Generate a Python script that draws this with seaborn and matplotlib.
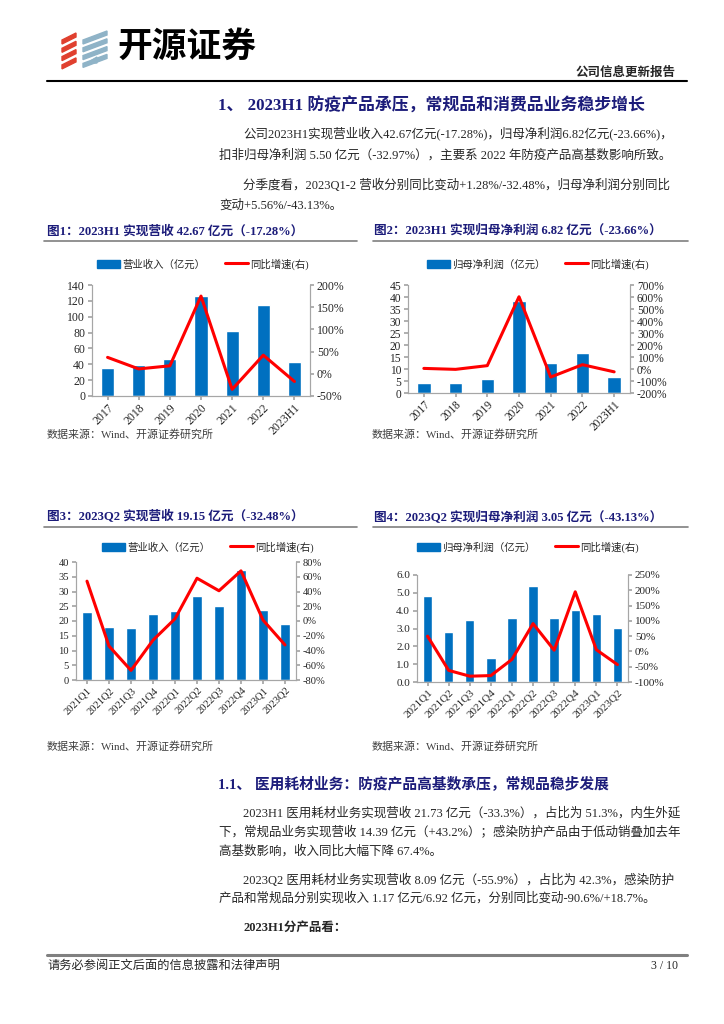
import numpy as np
import pandas as pd
import matplotlib
matplotlib.use("Agg")
import matplotlib.pyplot as plt
import seaborn as sns
from matplotlib.patches import Patch, Polygon
from matplotlib.lines import Line2D

# -----------------------------
# Data
# -----------------------------
years = ["2017", "2018", "2019", "2020", "2021", "2022", "2023H1"]
rev_year = [35.3, 38.7, 46.2, 126.5, 81.5, 114.7, 42.67]
rev_year_yoy = [37, 11, 18, 175, -35, 42, -17.28]
np_year = [4.3, 4.3, 5.7, 38.3, 12.5, 16.7, 6.82]
np_year_yoy = [5, -3, 28, 602, -67, 36, -23.66]

quarters = ["2021Q1", "2021Q2", "2021Q3", "2021Q4", "2022Q1",
            "2022Q2", "2022Q3", "2022Q4", "2023Q1", "2023Q2"]
rev_q = [22.9, 18.0, 17.75, 22.4, 23.4, 28.5, 25.1, 37.3, 23.7, 19.15]
rev_q_yoy = [54, -34, -67, -26, 3, 58, 41, 68, 1.28, -32.48]
np_q = [4.82, 2.81, 3.47, 1.37, 3.58, 5.38, 3.58, 4.01, 3.79, 3.05]
np_q_yoy = [50, -62, -81, -79, -26, 91, 4, 195, 5.56, -43.13]

BLUE = "#0070C0"
RED = "#FF0000"
NAVY = "#1C1C7A"
GRAY = "#A6A6A6"

sns.set_theme(style="white")
plt.rcParams['font.family'] = ['Liberation Serif', 'Noto Sans CJK SC']
plt.rcParams['axes.unicode_minus'] = False

W, H = 724, 1024
fig = plt.figure(figsize=(7.24, 10.24), dpi=100)


def px(x, y):
    return x / W, 1 - y / H


def rect(x0, y0, x1, y1):
    return [x0 / W, 1 - y1 / H, (x1 - x0) / W, (y1 - y0) / H]


def text(x, y, s, size=9, **kw):
    fig.text(*px(x, y), s, fontsize=size, va="center", **kw)


def hline(x0, x1, y, lw=1.0, color="black"):
    fig.add_artist(Line2D([x0 / W, x1 / W], [1 - y / H, 1 - y / H],
                          lw=lw, color=color, transform=fig.transFigure))


# -----------------------------
# Header
# -----------------------------
# logo ribbons
for i in range(4):
    yb = 36 + i * 8.3
    fig.add_artist(Polygon([px(62, yb + 4), px(76, yb - 3), px(76, yb + 1), px(62, yb + 8)],
                           closed=True, color="#E0402F", transform=fig.transFigure))
for i in range(4):
    yb = 35 + i * 7.8
    fig.add_artist(Polygon([px(83, yb + 5), px(107, yb - 4), px(107, yb), px(83, yb + 9)],
                           closed=True, color="#8FB3C7", transform=fig.transFigure))
fig.add_artist(Polygon([px(92, 60), px(97, 57), px(97, 63), px(93, 63)],
                       closed=True, color="#8FB3C7", transform=fig.transFigure))

text(117, 46, "开源证券", size=25, fontweight="bold", color="black",
     family=["Noto Sans CJK SC"])
text(676, 73, "公司信息更新报告", size=9, fontweight="bold", ha="right")
hline(47, 687, 81, lw=1.5)

text(218, 106, "1、 2023H1 防疫产品承压，常规品和消费品业务稳步增长", size=12.2,
     fontweight="bold", color=NAVY)

text(243, 133, "公司2023H1实现营业收入42.67亿元(-17.28%)，归母净利润6.82亿元(-23.66%)，", size=9)
text(219, 155, "扣非归母净利润 5.50 亿元（-32.97%），主要系 2022 年防疫产品高基数影响所致。", size=9)
text(243, 185, "分季度看，2023Q1-2 营收分别同比变动+1.28%/-32.48%，归母净利润分别同比", size=9)
text(219, 206, "变动+5.56%/-43.13%。", size=9)


# -----------------------------
# Chart helper
# -----------------------------
def draw_chart(r, cats, bars, yoy, bar_label, yticks, yfmt, rticks,
               fs, width, legend_xy):
    ax = fig.add_axes(r)
    df = pd.DataFrame({"period": cats, "value": bars})
    sns.barplot(data=df, x="period", y="value", color=BLUE, saturation=1,
                width=width, ax=ax)
    ax.set_ylim(yticks[0], yticks[-1])
    ax.set_yticks(yticks)
    ax.set_yticklabels([yfmt.format(v) for v in yticks])
    ax.set_xlabel("")
    ax.set_ylabel("")
    ax.tick_params(axis="x", labelsize=fs, rotation=45, length=3, color=GRAY, pad=1)
    for lab in ax.get_xticklabels():
        lab.set_ha("right")
        lab.set_rotation_mode("anchor")
    ax.tick_params(axis="y", labelsize=fs, length=3, color=GRAY, pad=2)

    ax2 = ax.twinx()
    sns.lineplot(x=np.arange(len(cats)), y=yoy, color=RED, lw=2.2, ax=ax2)
    ax2.set_ylim(rticks[0], rticks[-1])
    ax2.set_yticks(rticks)
    ax2.set_yticklabels([f"{v}%" for v in rticks])
    ax2.tick_params(axis="y", labelsize=fs, length=3, color=GRAY, pad=2)
    ax2.set_xlim(-0.5, len(cats) - 0.5)

    for a in (ax, ax2):
        a.spines["top"].set_visible(False)
        for s in ("left", "right", "bottom"):
            a.spines[s].set_color(GRAY)
            a.spines[s].set_linewidth(0.8)
        a.tick_params(bottom=True, left=(a is ax), right=(a is ax2))

    handles = [Patch(color=BLUE, label=bar_label),
               Line2D([0], [0], color=RED, lw=2.2, label="同比增速(右)")]
    fig.legend(handles=handles, loc="center", bbox_to_anchor=px(*legend_xy),
               ncol=2, frameon=False, fontsize=7.5, handlelength=2.2,
               handleheight=0.9, handletextpad=0.2, columnspacing=1.9)
    return ax


# -----------------------------
# Figure 1 & 2
# -----------------------------
text(47, 231, "图1：2023H1 实现营收 42.67 亿元（-17.28%）", size=9.1,
     fontweight="bold", color=NAVY)
hline(44, 357, 241, lw=1.2, color="#7F7F7F")
text(374, 231, "图2：2023H1 实现归母净利润 6.82 亿元（-23.66%）", size=9.1,
     fontweight="bold", color=NAVY)
hline(373, 688, 241, lw=1.2, color="#7F7F7F")

draw_chart(rect(92, 285, 310, 396), years, rev_year, rev_year_yoy, "营业收入（亿元）",
           list(range(0, 141, 20)), "{:d}", list(range(-50, 201, 50)),
           8.5, 0.42, (203, 264))
draw_chart(rect(408, 285, 630, 393), years, np_year, np_year_yoy, "归母净利润（亿元）",
           list(range(0, 46, 5)), "{:d}", list(range(-200, 701, 100)),
           8.3, 0.42, (538, 264))

text(47, 434, "数据来源：Wind、开源证券研究所", size=7.9, color="#404040")
text(372, 434, "数据来源：Wind、开源证券研究所", size=7.9, color="#404040")

# -----------------------------
# Figure 3 & 4
# -----------------------------
text(47, 517, "图3：2023Q2 实现营收 19.15 亿元（-32.48%）", size=9.1,
     fontweight="bold", color=NAVY)
hline(44, 357, 527, lw=1.2, color="#7F7F7F")
text(374, 517, "图4：2023Q2 实现归母净利润 3.05 亿元（-43.13%）", size=9.1,
     fontweight="bold", color=NAVY)
hline(373, 688, 527, lw=1.2, color="#7F7F7F")

draw_chart(rect(76, 562, 296, 680), quarters, rev_q, rev_q_yoy, "营业收入（亿元）",
           list(range(0, 41, 5)), "{:d}", list(range(-80, 81, 20)),
           7.6, 0.45, (208, 547))
draw_chart(rect(417, 575, 628, 682), quarters, np_q, np_q_yoy, "归母净利润（亿元）",
           [0.0, 1.0, 2.0, 3.0, 4.0, 5.0, 6.0], "{:.1f}", list(range(-100, 251, 50)),
           8.0, 0.45, (528, 547))

text(47, 746, "数据来源：Wind、开源证券研究所", size=7.9, color="#404040")
text(372, 746, "数据来源：Wind、开源证券研究所", size=7.9, color="#404040")

# -----------------------------
# Section 1.1
# -----------------------------
text(218, 784, "1.1、 医用耗材业务：防疫产品高基数承压，常规品稳步发展", size=10.6,
     fontweight="bold", color=NAVY)
text(243, 813, "2023H1 医用耗材业务实现营收 21.73 亿元（-33.3%），占比为 51.3%，内生外延", size=9)
text(219, 832, "下，常规品业务实现营收 14.39 亿元（+43.2%）；感染防护产品由于低动销叠加去年", size=9)
text(219, 851, "高基数影响，收入同比大幅下降 67.4%。", size=9)
text(243, 880, "2023Q2 医用耗材业务实现营收 8.09 亿元（-55.9%），占比为 42.3%，感染防护", size=9)
text(219, 898, "产品和常规品分别实现收入 1.17 亿元/6.92 亿元，分别同比变动-90.6%/+18.7%。", size=9)
text(243, 928, "2023H1分产品看：", size=9, fontweight="bold")

# -----------------------------
# Footer
# -----------------------------
hline(47, 687, 955, lw=2.2, color="#808080")
text(47, 966, "请务必参阅正文后面的信息披露和法律声明", size=8.8)
text(678, 966, "3 / 10", size=8.5, ha="right")

fig.savefig("out.png", dpi=100)
